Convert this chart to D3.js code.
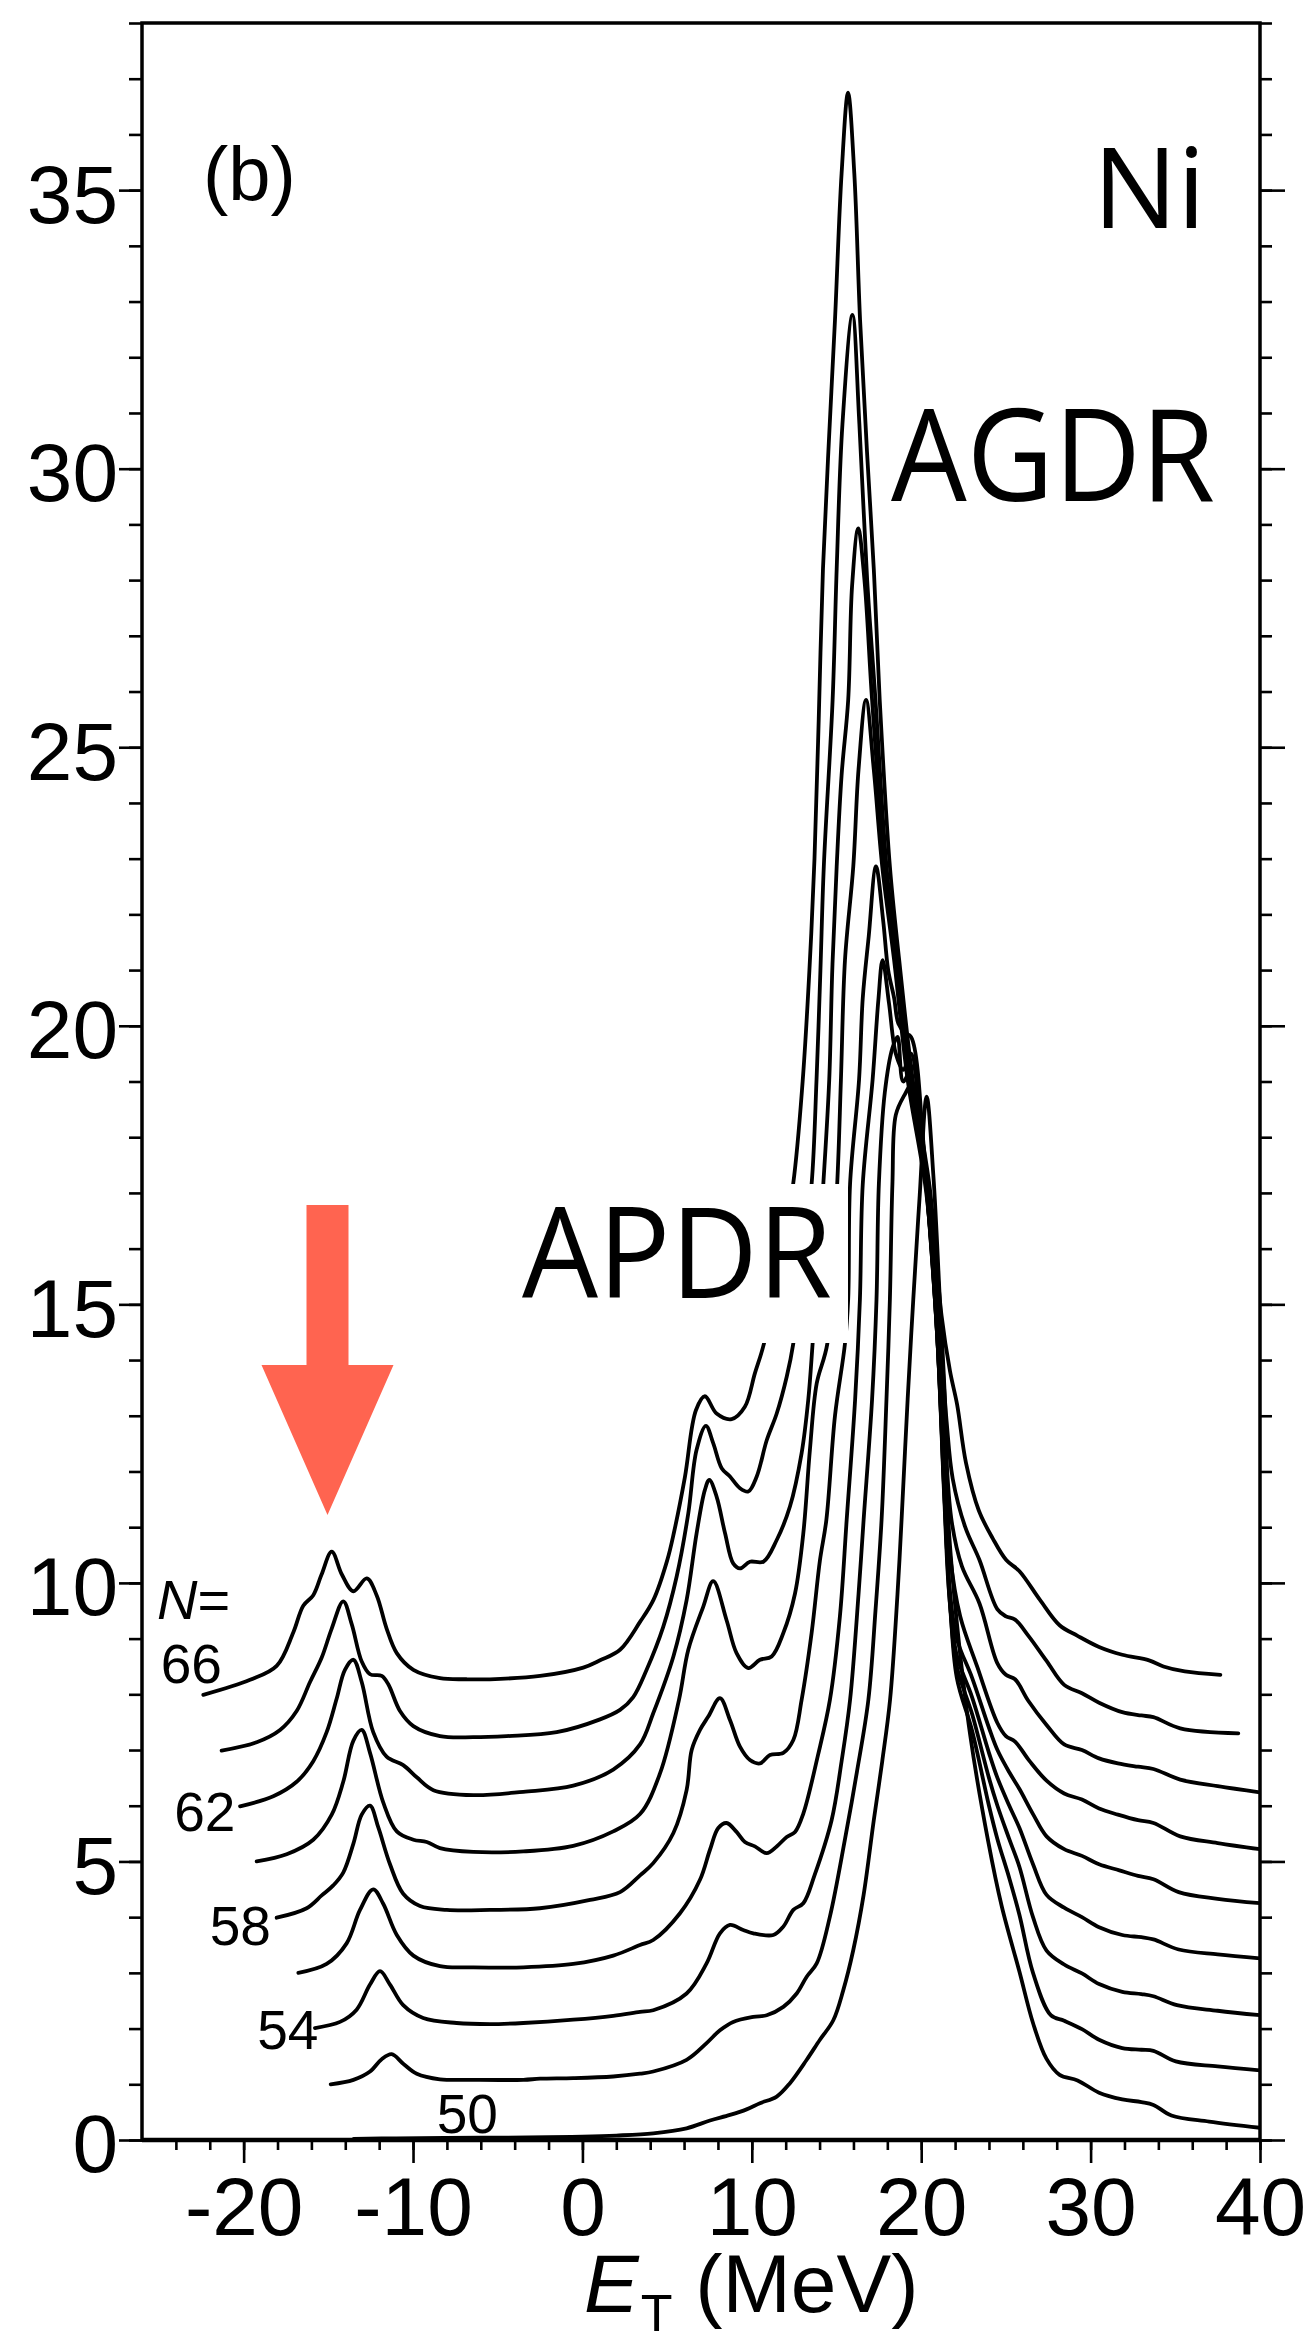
<!DOCTYPE html>
<html>
<head>
<meta charset="utf-8">
<script src="https://cdn.jsdelivr.net/npm/d3@7"></script>
<style>
  body { margin: 0; background: #fff; }
  text { font-family: "Liberation Sans", Arial, sans-serif; fill: #000; }
  .lbl { font-family: "Open Sans", "Liberation Sans", sans-serif; }
</style>
</head>
<body>
<div id="chart"></div>
<script>
// strength functions, offset by one unit per N: [E_T (MeV), value]
var n66 = [[-22.38,7.99],[-19.62,8.26],[-18.05,8.51],[-17.07,9.11],[-16.48,9.59],[-15.89,9.78],[-15.4,10.15],[-14.8,10.56],[-14.2,10.15],[-13.52,9.85],[-12.73,10.08],[-12.15,9.78],[-11.56,9.18],[-10.96,8.74],[-9.98,8.44],[-8.41,8.29],[-6.83,8.27],[-5.46,8.27],[-2.5,8.33],[0.05,8.48],[1.04,8.61],[2.22,8.8],[3.4,9.3],[4.2,9.7],[5.0,10.4],[5.4,10.9],[6.05,11.9],[6.7,13.1],[7.23,13.35],[7.92,13.04],[8.81,12.94],[9.59,13.16],[10.18,13.76],[10.72,14.3],[11.6,15.7],[12.44,17.16],[13.0,19.0],[13.4,21.0],[13.7,23.0],[13.95,25.5],[14.2,28.2],[14.55,30.5],[14.91,32.67],[15.3,35.3],[15.68,36.75],[16.05,35.3],[16.39,32.67],[16.8,30.3],[17.2,28.2],[17.55,25.85],[18.15,22.86],[18.7,21.18],[19.5,19.03],[20.5,17.1],[21.2,14.8],[21.7,13.8],[22.12,13.2],[22.64,12.16],[23.4,11.3],[24.22,10.8],[25.02,10.41],[25.8,10.21],[27.0,9.7],[28.17,9.24],[29.23,9.05],[30.5,8.85],[31.87,8.71],[33.45,8.61],[34.3,8.5],[35.56,8.41],[37.66,8.35]];
var n64 = [[-21.3,6.99],[-19.23,7.14],[-17.85,7.36],[-16.87,7.7],[-16.08,8.22],[-15.39,8.66],[-14.8,9.18],[-14.12,9.67],[-13.62,9.26],[-13.03,8.59],[-12.54,8.36],[-11.85,8.33],[-11.46,8.18],[-10.77,7.7],[-9.98,7.43],[-8.41,7.25],[-6.44,7.23],[-4.47,7.25],[-1.52,7.32],[1.04,7.55],[2.22,7.72],[3.0,7.95],[3.79,8.44],[4.77,9.21],[5.56,10.11],[6.25,11.25],[6.74,12.39],[7.29,12.82],[7.72,12.51],[8.22,12.06],[8.71,11.91],[9.3,11.7],[9.79,11.64],[10.29,11.91],[10.88,12.56],[11.47,13.04],[12.06,13.7],[12.45,14.3],[13.0,15.8],[13.53,17.16],[13.82,19.03],[14.05,21.0],[14.25,22.86],[14.77,25.85],[15.01,28.2],[15.35,30.8],[15.94,32.76],[16.35,30.8],[16.81,28.0],[17.3,25.85],[17.95,22.86],[18.55,21.18],[19.35,19.03],[20.4,17.1],[21.1,14.6],[21.5,12.9],[21.86,11.87],[22.6,11.0],[23.44,10.41],[24.49,9.53],[25.0,9.4],[25.54,9.34],[26.33,9.05],[27.4,8.6],[28.44,8.17],[29.49,8.02],[30.5,7.85],[31.87,7.68],[33.0,7.62],[33.71,7.59],[35.29,7.39],[38.72,7.3]];
var n62 = [[-20.21,5.99],[-18.25,6.17],[-16.87,6.43],[-15.89,6.8],[-15.1,7.32],[-14.51,7.92],[-14.02,8.44],[-13.52,8.62],[-13.03,8.22],[-12.35,7.32],[-11.56,6.88],[-10.58,6.73],[-9.78,6.51],[-8.8,6.28],[-6.44,6.19],[-3.49,6.25],[-0.54,6.36],[1.82,6.65],[3.4,7.1],[4.18,7.66],[5.37,8.68],[6.15,9.69],[6.74,10.89],[7.23,11.67],[7.49,11.85],[7.92,11.55],[8.42,10.89],[8.9,10.35],[9.3,10.26],[9.89,10.38],[10.68,10.38],[11.47,10.77],[12.25,11.37],[12.94,12.33],[13.33,13.28],[13.59,14.3],[14.22,17.16],[14.57,19.03],[14.75,21.0],[15.01,22.86],[15.3,24.5],[15.69,25.85],[15.92,27.9],[16.28,28.93],[16.65,28.0],[17.1,25.85],[17.85,22.86],[18.5,21.18],[19.3,19.03],[20.35,17.1],[21.05,14.5],[21.45,12.4],[21.8,11.1],[22.4,10.3],[23.44,9.63],[24.49,8.56],[25.0,8.35],[25.54,8.27],[26.33,7.88],[27.4,7.45],[28.44,7.1],[29.49,7.0],[30.5,6.85],[31.61,6.76],[32.8,6.7],[33.71,6.66],[35.29,6.47],[37.5,6.35],[40,6.24]];
var n60 = [[-19.23,5.0],[-17.46,5.13],[-15.89,5.39],[-14.8,5.84],[-14.12,6.43],[-13.52,7.17],[-13.03,7.36],[-12.54,6.95],[-11.76,6.06],[-10.96,5.54],[-9.98,5.39],[-9.19,5.35],[-8.41,5.24],[-6.44,5.17],[-3.49,5.18],[-0.54,5.28],[1.82,5.54],[3.4,5.85],[4.58,6.58],[5.7,7.9],[6.25,8.8],[7.13,9.57],[7.72,10.03],[8.51,9.33],[9.1,8.74],[9.79,8.47],[10.48,8.62],[11.17,8.68],[11.86,9.1],[12.55,9.81],[13.04,10.89],[13.43,12.39],[13.83,13.58],[14.46,14.3],[15.04,17.16],[15.26,19.03],[15.5,21.18],[15.99,22.86],[16.3,24.6],[16.74,25.85],[17.2,24.6],[17.7,22.86],[18.4,21.18],[19.2,19.03],[20.3,17.0],[21.0,14.4],[21.4,12.0],[21.7,10.5],[22.3,9.4],[23.3,8.5],[24.49,7.49],[25.0,7.25],[25.54,7.15],[26.4,6.8],[27.4,6.45],[28.44,6.22],[29.49,6.11],[30.5,5.95],[31.61,5.84],[32.8,5.74],[33.71,5.69],[35.29,5.45],[37.5,5.33],[40,5.22]];
var n58 = [[-18.05,3.99],[-16.28,4.16],[-15.39,4.39],[-14.71,4.57],[-14.12,4.8],[-13.52,5.32],[-13.03,5.84],[-12.54,6.0],[-12.05,5.61],[-11.36,4.95],[-10.58,4.42],[-9.59,4.2],[-8.01,4.13],[-5.46,4.13],[-2.51,4.16],[0.45,4.31],[2.22,4.45],[3.4,4.75],[4.18,4.97],[5.37,5.51],[6.15,6.28],[6.45,7.0],[6.94,7.36],[7.43,7.6],[8.12,7.93],[8.71,7.54],[9.3,7.06],[9.89,6.82],[10.48,6.76],[11.07,6.91],[11.86,6.95],[12.45,7.18],[12.94,7.9],[13.53,9.1],[14.02,10.4],[14.4,11.13],[14.91,13.0],[15.5,14.3],[15.69,15.1],[15.8,17.16],[16.33,19.03],[16.55,20.5],[16.9,21.6],[17.33,22.86],[17.75,21.9],[18.05,21.0],[18.4,20.5],[18.65,20.04],[19.04,19.87],[19.4,19.8],[20.25,17.3],[20.95,14.4],[21.35,11.7],[21.65,10.0],[22.1,9.0],[23.0,8.3],[24.0,7.4],[24.5,7.0],[25.2,6.6],[25.8,6.3],[26.6,5.85],[27.4,5.45],[28.44,5.22],[29.49,5.1],[30.5,4.95],[31.7,4.84],[32.8,4.74],[33.71,4.68],[35.2,4.45],[37.5,4.33],[40,4.25]];
var n56 = [[-16.77,3.0],[-15.1,3.16],[-13.92,3.53],[-13.13,4.13],[-12.35,4.5],[-11.76,4.24],[-10.96,3.68],[-9.98,3.31],[-8.41,3.12],[-6.44,3.1],[-3.49,3.1],[-0.54,3.16],[1.82,3.31],[3.4,3.5],[4.18,3.59],[5.76,4.07],[6.94,4.67],[7.53,5.21],[8.02,5.6],[8.51,5.69],[9.1,5.53],[9.59,5.35],[10.18,5.27],[10.88,5.15],[11.47,5.27],[12.06,5.44],[12.55,5.53],[13.04,5.86],[13.9,6.9],[14.61,7.9],[15.2,9.4],[15.6,11.13],[16.1,13.3],[16.38,15.08],[16.55,17.16],[17.13,19.03],[17.47,20.46],[17.72,21.18],[18.1,20.4],[18.5,19.5],[18.94,19.21],[19.4,19.5],[19.9,18.4],[20.35,17.0],[20.95,14.4],[21.35,11.6],[21.65,9.8],[22.1,8.7],[23.0,7.95],[24.0,6.95],[24.5,6.5],[25.2,6.0],[25.8,5.6],[26.6,4.95],[27.4,4.4],[28.44,4.17],[29.49,4.0],[30.5,3.82],[31.87,3.68],[33.0,3.64],[33.71,3.6],[35.2,3.42],[37.5,3.33],[40,3.26]];
var n54 = [[-15.79,2.01],[-14.31,2.12],[-13.33,2.34],[-12.54,2.79],[-11.95,3.03],[-11.36,2.79],[-10.58,2.42],[-9.4,2.19],[-7.43,2.1],[-5.46,2.08],[-3.49,2.1],[-0.54,2.16],[1.82,2.23],[3.4,2.3],[4.18,2.33],[6.15,2.63],[7.33,3.17],[8.12,3.71],[8.71,3.86],[9.49,3.77],[10.09,3.71],[11.27,3.68],[11.86,3.83],[12.45,4.13],[13.04,4.25],[13.7,4.75],[14.71,5.74],[15.3,6.8],[15.8,7.9],[16.3,9.8],[16.6,11.13],[17.1,13.3],[17.36,15.08],[17.5,17.16],[17.85,18.8],[18.3,19.6],[18.6,19.8],[18.94,19.0],[19.5,19.27],[20.0,18.3],[20.4,16.8],[20.95,14.4],[21.4,11.4],[21.7,9.6],[22.1,8.5],[23.0,7.65],[24.0,6.5],[24.5,6.0],[25.2,5.4],[25.8,4.9],[26.6,4.0],[27.4,3.4],[28.44,3.15],[29.49,2.99],[30.5,2.8],[31.87,2.66],[33.0,2.62],[33.71,2.58],[35.1,2.42],[37.5,2.32],[40,2.24]];
var n52 = [[-14.86,1.0],[-13.52,1.08],[-12.54,1.23],[-11.85,1.45],[-11.26,1.54],[-10.58,1.37],[-9.78,1.19],[-8.41,1.09],[-6.44,1.08],[-3.49,1.08],[-2.5,1.1],[-0.54,1.11],[1.82,1.14],[3.4,1.19],[4.18,1.23],[6.15,1.44],[7.33,1.74],[8.12,1.97],[8.9,2.12],[10.09,2.21],[10.88,2.24],[11.86,2.39],[12.65,2.63],[13.24,2.93],[13.83,3.17],[14.61,4.01],[15.5,5.4],[16.2,6.6],[16.88,7.9],[17.3,9.5],[17.66,11.13],[17.95,13.3],[18.15,15.08],[18.3,17.16],[18.5,18.4],[19.0,18.75],[19.43,18.94],[19.8,18.5],[20.3,17.2],[20.9,14.7],[21.4,11.6],[21.7,9.7],[22.1,8.3],[23.0,7.35],[24.0,6.0],[24.5,5.4],[25.2,4.7],[25.8,4.04],[26.6,3.0],[27.65,2.24],[28.44,2.14],[29.49,1.99],[30.5,1.8],[31.87,1.65],[33.0,1.62],[33.71,1.6],[35.03,1.41],[37.5,1.32],[40,1.25]];
var n50 = [[-13.5,0.02],[-11,0.03],[-6,0.04],[-2,0.05],[0,0.06],[2,0.08],[4.18,0.12],[6.15,0.21],[7.53,0.35],[8.71,0.45],[9.69,0.55],[10.48,0.66],[11.47,0.78],[12.25,1.02],[13.24,1.44],[14.02,1.8],[14.81,2.15],[15.4,2.69],[15.99,3.41],[16.6,4.4],[17.2,5.74],[17.7,6.8],[18.16,7.9],[18.6,9.8],[18.84,11.13],[19.2,13.3],[19.53,15.08],[19.9,16.9],[20.32,18.73],[20.72,17.3],[21.1,15.08],[21.4,13.28],[21.6,11.13],[22.12,9.24],[22.9,7.25],[23.96,5.35],[24.75,4.2],[25.8,3.02],[26.6,2.1],[27.39,1.46],[28.17,1.17],[29.23,1.07],[30.5,0.85],[31.87,0.73],[33.0,0.68],[33.71,0.63],[34.77,0.44],[37,0.33],[40,0.22]];

var curves = [n50, n52, n54, n56, n58, n60, n62, n64, n66];
var xTicks = [-20, -10, 0, 10, 20, 30, 40];
var yTicks = [0, 5, 10, 15, 20, 25, 30, 35];
var nLabels = ["66", "62", "58", "54", "50"];

var W = 1312, H = 2343;
var pLeft = 142, pRight = 1260, pTop = 23, pBottom = 2140;

var x = d3.scaleLinear().domain([-26, 40]).range([pLeft, pRight]);
var y = d3.scaleLinear().domain([0, 38]).range([pBottom, pTop]);

var svg = d3.select('#chart').append('svg')
  .attr('width', W).attr('height', H);

svg.append('defs').append('clipPath').attr('id', 'plot')
  .append('rect').attr('x', pLeft).attr('y', pTop)
  .attr('width', pRight - pLeft).attr('height', pBottom - pTop);

//axes: minor + major ticks, outward
function ticks(gen, size, vals, labels) {
  return gen.tickValues(vals).tickSize(size).tickFormat(labels ? function(d) { return String(d); } : '');
}
var gxMinor = svg.append('g').attr('transform', 'translate(0,' + pBottom + ')')
  .call(ticks(d3.axisBottom(x), 10, d3.range(-24, 41, 2), false));
var gx = svg.append('g').attr('transform', 'translate(0,' + pBottom + ')')
  .call(ticks(d3.axisBottom(x), 23, xTicks, true).tickPadding(14));
var gyMinor = svg.append('g').attr('transform', 'translate(' + pLeft + ',0)')
  .call(ticks(d3.axisLeft(y), 13, d3.range(0, 39, 1), false));
var gy = svg.append('g').attr('transform', 'translate(' + pLeft + ',0)')
  .call(ticks(d3.axisLeft(y), 23, yTicks, true).tickPadding(1));
var grMinor = svg.append('g').attr('transform', 'translate(' + pRight + ',0)')
  .call(ticks(d3.axisRight(y), 12, d3.range(0, 39, 1), false));
var gr = svg.append('g').attr('transform', 'translate(' + pRight + ',0)')
  .call(ticks(d3.axisRight(y), 25, yTicks, false));

svg.selectAll('.domain').remove();
svg.selectAll('.tick line').attr('stroke', '#000').attr('stroke-width', 2.6);
svg.selectAll('.tick text').attr('font-size', 82)
  .attr('font-family', '"Liberation Sans", Arial, sans-serif').attr('fill', '#000');
gy.selectAll('.tick text').attr('dy', '0.39em');
gx.selectAll('.tick text').attr('dy', '0.71em');

// frame
svg.append('rect')
  .attr('x', pLeft).attr('y', pTop)
  .attr('width', pRight - pLeft).attr('height', pBottom - pTop)
  .attr('fill', 'none').attr('stroke', '#000').attr('stroke-width', 3.5);
svg.append('line')
  .attr('x1', pLeft).attr('x2', pRight).attr('y1', pBottom).attr('y2', pBottom)
  .attr('stroke', '#000').attr('stroke-width', 4.5);

var line = d3.line()
  .x(function(d) { return x(d[0]); })
  .y(function(d) { return y(d[1]); })
  .curve(d3.curveCatmullRom.alpha(0.5));

svg.append('g').attr('clip-path', 'url(#plot)')
  .selectAll('path')
  .data(curves)
  .enter().append('path')
    .attr('d', line)
    .attr('fill', 'none')
    .attr('stroke', '#000')
    .attr('stroke-width', 3.8)
    .attr('stroke-linejoin', 'round')
    .attr('stroke-linecap', 'round');

// white box behind APDR
svg.append('rect')
  .attr('x', 515).attr('y', 1184).attr('width', 333).attr('height', 159)
  .attr('fill', '#fff');

svg.append('text').attr('class', 'lbl')
  .attr('x', 522).attr('y', 1298)
  .attr('font-size', 126).attr('textLength', 310).attr('lengthAdjust', 'spacingAndGlyphs')
  .text('APDR');
svg.append('text').attr('class', 'lbl')
  .attr('x', 891).attr('y', 501)
  .attr('font-size', 128).attr('textLength', 324).attr('lengthAdjust', 'spacingAndGlyphs')
  .text('AGDR');
svg.append('text').attr('class', 'lbl')
  .attr('x', 1093).attr('y', 228)
  .attr('font-size', 112)
  .text('Ni');
svg.append('text')
  .attr('x', 203).attr('y', 200)
  .attr('font-size', 76)
  .text('(b)');

// red arrow
var ax = 327.5;
svg.append('polygon')
  .attr('points', [
    [ax - 21, 1205], [ax + 21, 1205], [ax + 21, 1365], [ax + 66, 1365],
    [ax, 1515], [ax - 66, 1365], [ax - 21, 1365]
  ].map(function(p) { return p.join(','); }).join(' '))
  .attr('fill', '#ff6450');

// N labels
var nl = svg.append('text').attr('x', 157).attr('y', 1619).attr('font-size', 56);
nl.append('tspan').attr('font-style', 'italic').text('N');
nl.append('tspan').text('=');

var labelPos = [[-24.9, 8.2], [-24.1, 5.55], [-22.0, 3.5], [-19.2, 1.63], [-8.6, 0.13]];
svg.selectAll('.nlab')
  .data(nLabels)
  .enter().append('text')
    .attr('class', 'nlab')
    .attr('x', function(d, i) { return x(labelPos[i][0]); })
    .attr('y', function(d, i) { return y(labelPos[i][1]); })
    .attr('font-size', 55)
    .text(function(d) { return d; });

// x axis title
var xt = svg.append('text').attr('x', 584).attr('y', 2312).attr('font-size', 82);
xt.append('tspan').attr('font-style', 'italic').text('E');
xt.append('tspan').attr('font-size', 52).attr('dx', 2).attr('dy', 19).text('T');
xt.append('tspan').attr('dy', -19).text(' (MeV)');
</script>
</body>
</html>
